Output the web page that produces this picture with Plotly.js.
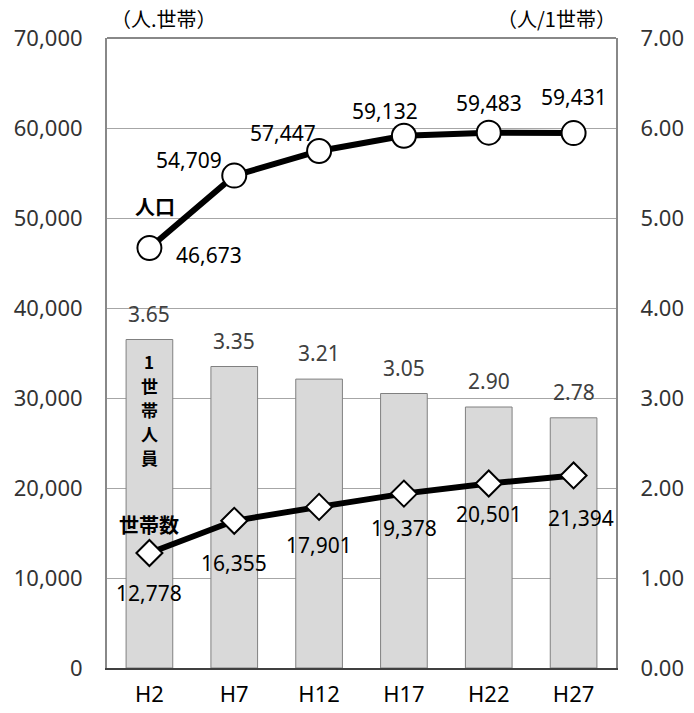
<!DOCTYPE html>
<html><head><meta charset="utf-8">
<script src="https://cdn.plot.ly/plotly-3.0.1.min.js"></script>
<style>html,body{margin:0;padding:0;background:#fff}</style>
</head><body>
<div id="chart" style="width:694px;height:713px"></div>
<script>
const categories = ["H2","H7","H12","H17","H22","H27"];
const population = [46673, 54709, 57447, 59132, 59483, 59431];
const households = [12778, 16355, 17901, 19378, 20501, 21394];
const perHousehold = [3.65, 3.35, 3.21, 3.05, 2.90, 2.78];
const verticalLabel = ["1","世","帯","人","員"];

const numFont = "'Liberation Sans Narrow','Noto Sans',sans-serif";
const jpFont = "'Noto Sans CJK JP',sans-serif";
const fmt = v => v.toLocaleString('en-US');

const popShift = [[60,-7],[-45,16],[-36,18],[-19,25],[0,30],[0,36]];
const hhShift = [[0,-40],[0,-42],[0,-38],[0,-34],[0,-31],[7,-43]];

const annotations = [];
categories.forEach((c,i)=>{
  annotations.push({x:c, y:population[i], xref:'x', yref:'y2', text:fmt(population[i]), showarrow:false,
    xshift:popShift[i][0], yshift:popShift[i][1], font:{family:numFont, size:21, color:'#000'}});
  annotations.push({x:c, y:households[i], xref:'x', yref:'y2', text:fmt(households[i]), showarrow:false,
    xshift:hhShift[i][0], yshift:hhShift[i][1], font:{family:numFont, size:21, color:'#000'}});
  annotations.push({x:c, y:perHousehold[i], xref:'x', yref:'y', text:perHousehold[i].toFixed(2), showarrow:false,
    yshift:26, font:{family:numFont, size:21, color:'#404040'}});
});
annotations.push({x:'H2', y:population[0], xref:'x', yref:'y2', text:'<b>人口</b>', showarrow:false, xshift:6, yshift:41, font:{family:jpFont, size:20, color:'#000'}});
annotations.push({x:'H2', y:households[0], xref:'x', yref:'y2', text:'<b>世帯数</b>', showarrow:false, xshift:0, yshift:29, font:{family:jpFont, size:20, color:'#000'}});
verticalLabel.forEach((ch,k)=>{
  annotations.push({x:'H2', y:perHousehold[0], xref:'x', yref:'y', text:'<b>'+ch+'</b>', showarrow:false,
    xshift:0, yshift:-22 - 24*k, font:{family:jpFont, size:17, color:'#000'}});
});
annotations.push({x:0, y:1, xref:'paper', yref:'paper', xanchor:'left', yanchor:'bottom', text:'（人.世帯）', showarrow:false, xshift:2, yshift:3, font:{family:jpFont, size:20, color:'#000'}});
annotations.push({x:1, y:1, xref:'paper', yref:'paper', xanchor:'right', yanchor:'bottom', text:'（人/1世帯）', showarrow:false, xshift:2, yshift:3, font:{family:jpFont, size:20, color:'#000'}});

const data = [
  {type:'bar', x:categories, y:perHousehold, yaxis:'y', width:0.55,
   marker:{color:'#d9d9d9', line:{color:'#808080', width:1}}, hoverinfo:'skip'},
  {type:'scatter', mode:'lines+markers', x:categories, y:households, yaxis:'y2',
   line:{color:'#000', width:6}, marker:{symbol:'diamond', size:20, color:'#fff', line:{color:'#000', width:2}}},
  {type:'scatter', mode:'lines+markers', x:categories, y:population, yaxis:'y2',
   line:{color:'#000', width:6}, marker:{symbol:'circle', size:24, color:'#fff', line:{color:'#000', width:2}}}
];

const layout = {
  width:694, height:713, showlegend:false,
  margin:{l:107, r:78, t:38, b:45},
  paper_bgcolor:'#fff', plot_bgcolor:'#fff',
  xaxis:{type:'category', showline:true, linecolor:'#404040', linewidth:2, ticks:'', showgrid:false,
    tickfont:{family:numFont, size:22, color:'#000'}, ticklabelstandoff:6},
  yaxis:{range:[0,7], dtick:1, tickformat:'.2f', side:'right', showgrid:true, gridcolor:'#a6a6a6', gridwidth:1,
    showline:true, linecolor:'#888', linewidth:2, zeroline:false, ticks:'',
    tickfont:{family:numFont, size:22, color:'#333'}, ticklabelstandoff:18},
  yaxis2:{range:[0,70000], dtick:10000, tickformat:',d', overlaying:'y', side:'left', showgrid:false,
    showline:true, linecolor:'#888', linewidth:2, zeroline:false, ticks:'',
    tickfont:{family:numFont, size:22, color:'#333'}, ticklabelstandoff:18},
  shapes:[{type:'line', xref:'paper', yref:'paper', x0:0, x1:1, y0:1, y1:1, line:{color:'#888', width:2}}],
  annotations:annotations
};
Plotly.newPlot('chart', data, layout, {displayModeBar:false, staticPlot:true});
</script>
</body></html>
